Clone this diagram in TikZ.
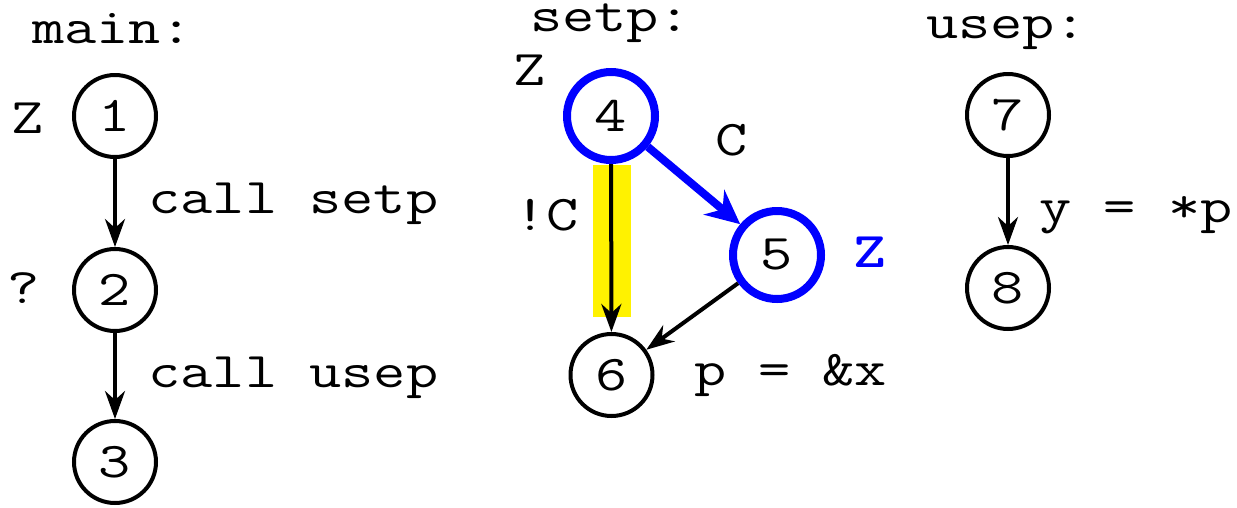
\documentclass[tikz,border=0pt]{standalone}
\usepackage{fontspec}
\usepackage{graphicx}
\usetikzlibrary{arrows.meta}
\newcommand\wide[1]{\scalebox{1.25}[1]{#1}}
\tikzset{
  lab/.style={font={\ttfamily\fontsize{50}{60}\selectfont}, inner sep=0pt, outer sep=0pt},
  vtx/.style={circle, draw=black, line width=4pt, minimum size=82pt, inner sep=0pt,
    font={\ttfamily\fontsize{50}{60}\selectfont}},
  bvtx/.style={circle, draw=blue, line width=8pt, minimum size=88pt, inner sep=0pt,
    font={\ttfamily\fontsize{50}{60}\selectfont}},
  edge/.style={draw=black, line width=4pt, -{Stealth[length=28pt, width=20pt, inset=9pt]}},
  bedge/.style={draw=blue, line width=8pt, -{Stealth[length=34pt, width=32pt, inset=11pt]}},
}
\begin{document}
\begin{tikzpicture}[x=1pt,y=-1pt]
\useasboundingbox (0,0) rectangle (1237,507);
% highlight
\fill[yellow] (593,165) rectangle (631,317);
% main
\node[lab, anchor=base west] (tmain) at (32,43) {\wide{main:}};
\node[vtx] (n1) at (115,116) {\wide{1}};
\node[vtx] (n2) at (115,290) {\wide{2}};
\node[vtx] (n3) at (115,462) {\wide{3}};
\node[lab, anchor=base] (z1) at (27.5,133) {\wide{Z}};
\node[lab, anchor=base] (q2) at (24,303) {\wide{?}};
\node[lab, anchor=base west] (lcs) at (148.5,213) {\wide{call setp}};
\node[lab, anchor=base west] (lcu) at (148.5,387) {\wide{call usep}};
\draw[edge] (n1) -- (n2);
\draw[edge] (n2) -- (n3);
% setp
\node[lab, anchor=base west] (tsetp) at (530,31) {\wide{setp:}};
\node[bvtx] (n4) at (611,116) {\wide{4}};
\node[bvtx] (n5) at (777,255) {\wide{5}};
\node[vtx] (n6) at (611.5,375) {\wide{6}};
\node[lab, anchor=base] (z4) at (530,85) {\wide{Z}};
\node[lab, anchor=base] (lc) at (732,155) {\wide{C}};
\node[lab, anchor=base west] (lnc) at (514.5,230) {\wide{!C}};
\node[lab, anchor=base, text=blue] (z5) at (870,267) {\wide{\bfseries Z}};
\node[lab, anchor=base west] (lpx) at (694,385) {\wide{p = \&x}};
\draw[edge] (n4) -- (n6);
\draw[bedge] (n4) -- (n5);
\draw[edge] (n5) -- (n6);
% usep
\node[lab, anchor=base west] (tusep) at (926,38) {\wide{usep:}};
\node[vtx] (n7) at (1008,115) {\wide{7}};
\node[vtx] (n8) at (1008,288) {\wide{8}};
\node[lab, anchor=base west] (lyp) at (1039.5,222) {\wide{y = *p}};
\draw[edge] (n7) -- (n8);
\end{tikzpicture}
\end{document}
